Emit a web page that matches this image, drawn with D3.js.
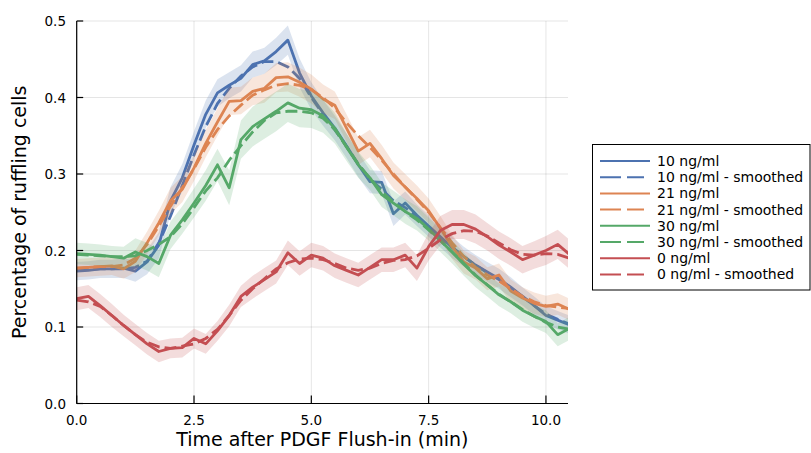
<!DOCTYPE html>
<html>
<head>
<meta charset="utf-8">
<script src="https://cdn.jsdelivr.net/npm/d3@7"></script>
<style>
  html, body { margin: 0; padding: 0; background: #fff; }
  svg { display: block; font-family: "DejaVu Sans", sans-serif; }
</style>
</head>
<body>
<svg id="chart" width="811" height="453"></svg>
<script>
// ---------------- data ----------------
const times = [0, 0.25, 0.5, 0.75, 1.0, 1.25, 1.5, 1.75, 2.0, 2.25, 2.5, 2.75, 3.0, 3.25, 3.5, 3.75, 4.0, 4.25, 4.5, 4.75,
  5.0, 5.25, 5.5, 5.75, 6.0, 6.25, 6.5, 6.75, 7.0, 7.25, 7.5, 7.75, 8.0, 8.25, 8.5, 8.75, 9.0, 9.25, 9.5, 9.75,
  10.0, 10.25, 10.5];

const raw10 = [0.173, 0.174, 0.176, 0.176, 0.177, 0.173, 0.185, 0.207, 0.265, 0.295, 0.338, 0.378, 0.406, 0.416, 0.425, 0.443, 0.448, 0.460, 0.475, 0.432,
  0.402, 0.380, 0.360, 0.337, 0.312, 0.290, 0.289, 0.248, 0.262, 0.246, 0.232, 0.218, 0.204, 0.192, 0.181, 0.172, 0.163, 0.152, 0.140, 0.128,
  0.115, 0.109, 0.103];
const smooth10 = [0.174, 0.175, 0.176, 0.176, 0.176, 0.178, 0.186, 0.210, 0.245, 0.285, 0.325, 0.362, 0.392, 0.412, 0.428, 0.440, 0.447, 0.447, 0.440, 0.425,
  0.400, 0.378, 0.358, 0.336, 0.313, 0.293, 0.280, 0.265, 0.256, 0.245, 0.230, 0.217, 0.204, 0.192, 0.181, 0.171, 0.162, 0.151, 0.140, 0.128,
  0.117, 0.110, 0.104];
const err10 = [0.012, 0.012, 0.012, 0.012, 0.013, 0.014, 0.016, 0.017, 0.018, 0.018, 0.018, 0.018, 0.018, 0.017, 0.017, 0.017, 0.017, 0.018, 0.019, 0.019,
  0.018, 0.017, 0.016, 0.016, 0.016, 0.015, 0.015, 0.016, 0.015, 0.014, 0.014, 0.014, 0.014, 0.013, 0.013, 0.013, 0.013, 0.013, 0.012, 0.012,
  0.012, 0.012, 0.012];

const raw21 = [0.177, 0.178, 0.179, 0.180, 0.176, 0.186, 0.210, 0.236, 0.265, 0.280, 0.308, 0.340, 0.368, 0.395, 0.396, 0.408, 0.412, 0.426, 0.427, 0.420,
  0.411, 0.398, 0.390, 0.360, 0.330, 0.340, 0.320, 0.298, 0.283, 0.268, 0.252, 0.229, 0.205, 0.185, 0.177, 0.163, 0.168, 0.147, 0.138, 0.131,
  0.127, 0.130, 0.123];
const smooth21 = [0.177, 0.178, 0.179, 0.179, 0.181, 0.190, 0.208, 0.232, 0.258, 0.282, 0.307, 0.335, 0.358, 0.376, 0.390, 0.403, 0.410, 0.416, 0.418, 0.416,
  0.410, 0.400, 0.386, 0.367, 0.350, 0.335, 0.318, 0.300, 0.283, 0.267, 0.250, 0.230, 0.210, 0.192, 0.178, 0.168, 0.160, 0.150, 0.140, 0.133,
  0.128, 0.126, 0.124];
const err21 = [0.012, 0.012, 0.012, 0.012, 0.013, 0.014, 0.015, 0.016, 0.017, 0.017, 0.017, 0.018, 0.018, 0.018, 0.018, 0.018, 0.019, 0.019, 0.019, 0.019,
  0.019, 0.019, 0.018, 0.018, 0.018, 0.018, 0.018, 0.017, 0.017, 0.017, 0.016, 0.016, 0.016, 0.015, 0.015, 0.015, 0.015, 0.015, 0.014, 0.014,
  0.014, 0.014, 0.014];

const raw30 = [0.196, 0.195, 0.194, 0.192, 0.190, 0.198, 0.192, 0.183, 0.220, 0.240, 0.262, 0.285, 0.312, 0.282, 0.345, 0.362, 0.372, 0.382, 0.393, 0.386,
  0.384, 0.376, 0.360, 0.335, 0.312, 0.295, 0.273, 0.262, 0.251, 0.242, 0.228, 0.213, 0.198, 0.182, 0.167, 0.155, 0.142, 0.133, 0.122, 0.114,
  0.107, 0.090, 0.098];
const smooth30 = [0.195, 0.194, 0.193, 0.192, 0.192, 0.193, 0.200, 0.208, 0.218, 0.235, 0.256, 0.278, 0.295, 0.318, 0.337, 0.355, 0.370, 0.380, 0.382, 0.382,
  0.380, 0.373, 0.358, 0.336, 0.313, 0.294, 0.277, 0.263, 0.251, 0.240, 0.227, 0.213, 0.198, 0.183, 0.168, 0.155, 0.143, 0.133, 0.123, 0.114,
  0.106, 0.100, 0.097];
const err30 = [0.014, 0.014, 0.014, 0.014, 0.015, 0.018, 0.018, 0.018, 0.018, 0.018, 0.019, 0.020, 0.021, 0.023, 0.025, 0.026, 0.026, 0.026, 0.025, 0.025,
  0.024, 0.022, 0.020, 0.018, 0.017, 0.016, 0.016, 0.016, 0.016, 0.016, 0.015, 0.015, 0.015, 0.015, 0.015, 0.015, 0.015, 0.015, 0.015, 0.015,
  0.015, 0.015, 0.015];

const raw0 = [0.137, 0.140, 0.128, 0.115, 0.102, 0.090, 0.078, 0.068, 0.072, 0.073, 0.085, 0.078, 0.095, 0.115, 0.140, 0.152, 0.162, 0.172, 0.197, 0.183,
  0.194, 0.190, 0.180, 0.174, 0.168, 0.178, 0.188, 0.188, 0.194, 0.177, 0.205, 0.226, 0.234, 0.234, 0.228, 0.218, 0.207, 0.198, 0.188, 0.194,
  0.200, 0.208, 0.195];
const smooth0 = [0.135, 0.133, 0.127, 0.115, 0.102, 0.090, 0.080, 0.074, 0.072, 0.075, 0.078, 0.085, 0.097, 0.115, 0.135, 0.150, 0.163, 0.176, 0.184, 0.189,
  0.190, 0.188, 0.183, 0.177, 0.174, 0.177, 0.183, 0.187, 0.188, 0.193, 0.203, 0.214, 0.222, 0.226, 0.225, 0.219, 0.210, 0.201, 0.195, 0.194,
  0.196, 0.195, 0.190];
const err0 = [0.015, 0.015, 0.015, 0.015, 0.014, 0.014, 0.014, 0.014, 0.013, 0.013, 0.013, 0.013, 0.013, 0.014, 0.014, 0.015, 0.015, 0.015, 0.016, 0.016,
  0.016, 0.016, 0.016, 0.016, 0.016, 0.016, 0.016, 0.016, 0.016, 0.017, 0.018, 0.019, 0.019, 0.019, 0.019, 0.018, 0.018, 0.018, 0.018, 0.018,
  0.019, 0.019, 0.019];

const seriesNames = ["10 ng/ml", "21 ng/ml", "30 ng/ml", "0 ng/ml"];
const seriesColors = ["#4C72B0", "#DD8452", "#55A868", "#C44E52"];
const xTicks = [0, 2.5, 5.0, 7.5, 10.0];
const yTicks = [0, 0.1, 0.2, 0.3, 0.4, 0.5];
const xLabel = "Time after PDGF Flush-in (min)";
const yLabel = "Percentage of ruffling cells";

// ---------------- layout ----------------
const svg = d3.select("#chart");
const plot = { left: 76.7, right: 568, top: 21, bottom: 403.5 };

const x = d3.scaleLinear().domain([0, 10.47]).range([plot.left, plot.right]);
const y = d3.scaleLinear().domain([0, 0.5]).range([plot.bottom, plot.top]);

svg.append("defs").append("clipPath").attr("id", "clip")
  .append("rect").attr("x", plot.left).attr("y", plot.top)
  .attr("width", plot.right - plot.left).attr("height", plot.bottom - plot.top);

// grid
const grid = svg.append("g");
grid.selectAll(".gx").data(xTicks).enter().append("line")
  .attr("x1", d => x(d)).attr("x2", d => x(d))
  .attr("y1", plot.top).attr("y2", plot.bottom)
  .attr("stroke", "#000").attr("stroke-opacity", 0.1).attr("stroke-width", 1);
grid.selectAll(".gy").data(yTicks).enter().append("line")
  .attr("x1", plot.left).attr("x2", plot.right)
  .attr("y1", d => y(d)).attr("y2", d => y(d))
  .attr("stroke", "#000").attr("stroke-opacity", 0.1).attr("stroke-width", 1);

// series
const series = [
  { raw: raw10, smooth: smooth10, err: err10 },
  { raw: raw21, smooth: smooth21, err: err21 },
  { raw: raw30, smooth: smooth30, err: err30 },
  { raw: raw0, smooth: smooth0, err: err0 }
];

const area = d3.area()
  .x((d, i) => x(times[i]))
  .y0((d, i, arr) => y(d.v - d.e))
  .y1((d) => y(d.v + d.e));
const line = d3.line().x((d, i) => x(times[i])).y(d => y(d));

const gData = svg.append("g").attr("clip-path", "url(#clip)");
series.forEach((s, k) => {
  const col = seriesColors[k];
  const pts = s.raw.map((v, i) => ({ v: v, e: s.err[i] }));
  gData.append("path").datum(pts)
    .attr("d", area).attr("fill", col).attr("fill-opacity", 0.2).attr("stroke", "none");
  gData.append("path").datum(s.raw)
    .attr("d", line).attr("fill", "none").attr("stroke", col)
    .attr("stroke-width", 2.8).attr("stroke-linejoin", "round");
  gData.append("path").datum(s.smooth)
    .attr("d", line).attr("fill", "none").attr("stroke", col)
    .attr("stroke-width", 2.8).attr("stroke-dasharray", "12,5");
});

// axes
const axes = svg.append("g");
axes.append("line").attr("x1", plot.left).attr("x2", plot.left)
  .attr("y1", plot.top).attr("y2", plot.bottom).attr("stroke", "#000").attr("stroke-width", 1.2);
axes.append("line").attr("x1", plot.left).attr("x2", plot.right)
  .attr("y1", plot.bottom).attr("y2", plot.bottom).attr("stroke", "#000").attr("stroke-width", 1.2);

axes.selectAll(".tx").data(xTicks).enter().append("line")
  .attr("x1", d => x(d)).attr("x2", d => x(d))
  .attr("y1", plot.bottom).attr("y2", plot.bottom - 8)
  .attr("stroke", "#000").attr("stroke-width", 1.2);
axes.selectAll(".ty").data(yTicks).enter().append("line")
  .attr("x1", plot.left).attr("x2", plot.left + 6.5)
  .attr("y1", d => y(d)).attr("y2", d => y(d))
  .attr("stroke", "#000").attr("stroke-width", 1.2);

axes.selectAll(".lx").data(xTicks).enter().append("text")
  .attr("x", d => x(d)).attr("y", 425)
  .attr("text-anchor", "middle").attr("font-size", 13.5).attr("fill", "#000")
  .text(d => d3.format(".1f")(d));
axes.selectAll(".ly").data(yTicks).enter().append("text")
  .attr("x", 66).attr("y", d => y(d))
  .attr("text-anchor", "end").attr("dominant-baseline", "central")
  .attr("font-size", 13.5).attr("fill", "#000")
  .text(d => d3.format(".1f")(d));

svg.append("text").attr("x", (plot.left + plot.right) / 2).attr("y", 446)
  .attr("text-anchor", "middle").attr("font-size", 19).attr("fill", "#000").text(xLabel);
svg.append("text")
  .attr("transform", `translate(26,${(plot.top + plot.bottom) / 2}) rotate(-90)`)
  .attr("text-anchor", "middle").attr("font-size", 19).attr("fill", "#000").text(yLabel);

// legend
const legend = svg.append("g");
legend.append("rect").attr("x", 592.5).attr("y", 144.5).attr("width", 217.5).attr("height", 145.5)
  .attr("fill", "#fff").attr("stroke", "#000").attr("stroke-width", 1);
const entries = [];
seriesNames.forEach((n, k) => {
  entries.push({ label: n, color: seriesColors[k], dashed: false });
  entries.push({ label: n + " - smoothed", color: seriesColors[k], dashed: true });
});
entries.forEach((e, i) => {
  const yy = 161 + i * 16.2;
  legend.append("line").attr("x1", 600).attr("x2", 650).attr("y1", yy).attr("y2", yy)
    .attr("stroke", e.color).attr("stroke-width", 2)
    .attr("stroke-dasharray", e.dashed ? "21,6,17,6" : null);
  legend.append("text").attr("x", 657).attr("y", yy)
    .attr("dominant-baseline", "central").attr("font-size", 14).attr("fill", "#000")
    .text(e.label);
});
</script>
</body>
</html>
